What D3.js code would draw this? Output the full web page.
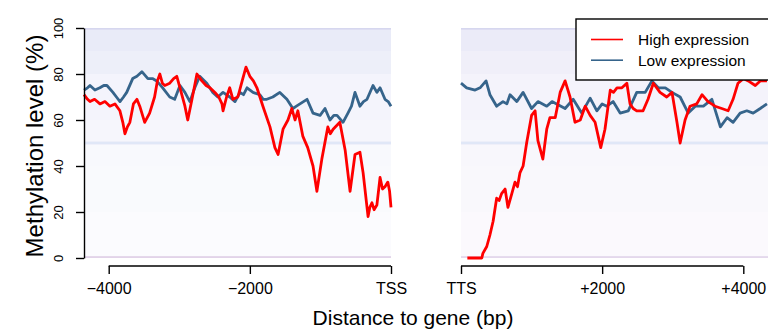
<!DOCTYPE html>
<html>
<head>
<meta charset="utf-8">
<script src="https://cdn.jsdelivr.net/npm/d3@7"></script>
<style>
  body { margin: 0; background: #fff; }
  svg { display: block; font-family: "Liberation Sans", Arial, Helvetica, sans-serif; }
</style>
</head>
<body>
<div id="chart"></div>
<script>
// upstream of TSS (bp) - high expression
const upHighPos = [-4350,-4300,-4265,-4200,-4124,-4053,-3983,-3912,-3841,-3800,-3770,-3735,-3700,-3650,-3600,-3560,-3490,-3420,-3350,-3310,-3275,-3240,-3205,-3135,-3080,-3035,-2990,-2920,-2880,-2820,-2750,-2680,-2620,-2565,-2495,-2440,-2395,-2380,-2330,-2285,-2240,-2170,-2100,-2055,-2000,-1950,-1900,-1815,-1715,-1645,-1600,-1530,-1460,-1405,-1360,-1320,-1250,-1180,-1105,-1050,-980,-895,-860,-820,-725,-650,-580,-510,-440,-395,-325,-300,-270,-240,-200,-155,-120,-85,-45,-20,0];
const upHighVal = [71,69,68,69,67,68,66,67,64,59,54,57,59,67,69,66,59,63,70,77,80,76,75,76,78,79,74,66,60,69,80,77,75,74,72,70,67,64,70,74,69,70,78,83,79,77,74,66,57,48,45,56,60,65,60,64,53,48,40,29,43,57,54,56,59,47,29,45,46,37,18,22,24,21,23,35,30,31,33,29,22];
// upstream of TSS - low expression
const upLowPos = [-4350,-4300,-4265,-4195,-4125,-4070,-4025,-3940,-3890,-3840,-3790,-3745,-3660,-3600,-3530,-3445,-3380,-3320,-3235,-3135,-3065,-2990,-2920,-2850,-2780,-2710,-2610,-2525,-2455,-2380,-2285,-2210,-2140,-2090,-2040,-1955,-1860,-1810,-1760,-1675,-1575,-1475,-1390,-1340,-1290,-1190,-1105,-1005,-935,-865,-810,-765,-680,-610,-560,-510,-440,-390,-340,-255,-200,-155,-85,-40,0];
const upLowVal = [73,74,75,73,74,75,75,72,70,68,70,72,78,79,81,78,78,77,74,70,69,75,72,68,74,79,76,72,70,72,70,68,72,71,74,72,71,69,69,70,72,69,65,66,67,69,63,62,65,60,62,62,59,63,66,72,66,68,69,75,72,74,69,68,66];

// downstream of TTS (bp) - high expression
const downHighPos = [90,295,310,365,410,455,505,540,575,625,665,720,765,800,835,880,930,1000,1050,1090,1160,1215,1260,1335,1405,1475,1545,1615,1690,1760,1830,1900,1980,2040,2115,2160,2210,2280,2350,2395,2440,2490,2580,2650,2725,2820,2915,2990,3060,3105,3175,3245,3340,3415,3500,3600,3695,3785,3855,3925,4000,4070,4170,4240,4335];
const downHighVal = [0,0,2,5,10,16,26,25,28,30,22,28,33,31,37,40,50,62,64,51,43,56,61,61,72,77,70,59,60,66,62,59,48,56,73,72,74,74,76,67,65,64,64,69,76,72,70,72,59,50,60,66,67,71,68,66,65,64,69,76,78,77,75,77,77];
// downstream of TTS - low expression
const downLowPos = [0,80,200,270,355,410,505,595,650,695,790,880,1000,1090,1215,1290,1355,1475,1590,1710,1830,1925,2000,2065,2155,2255,2370,2490,2610,2705,2795,2895,2990,3105,3220,3320,3435,3555,3675,3770,3855,3955,4050,4140,4240,4335];
const downLowVal = [76,74,73,74,77,71,66,68,67,71,68,72,65,68,66,68,67,65,69,63,69.5,64,67,66,68,63,64,72,72,77,74,74,72,70,63,66,66,69,57,61,59,63,64,63,65,67];

// background density of individual CpG sites, by methylation band
const bandLo = [0, 0.8, 20, 40, 49.4, 50.6, 60, 80, 90, 99.3];
const bandHi = [0.8, 20, 40, 49.4, 50.6, 60, 80, 90, 99.3, 100];
const upBlue   = [0.30, 0.03, 0.05, 0.06, 0.28, 0.08, 0.10, 0.15, 0.20, 0.40];
const upPink   = [0.25, 0.02, 0.02, 0.02, 0.05, 0.03, 0.03, 0.05, 0.06, 0.15];
const downBlue = [0.28, 0.03, 0.05, 0.06, 0.28, 0.08, 0.10, 0.13, 0.18, 0.40];
const downPink = [0.20, 0.03, 0.03, 0.03, 0.05, 0.03, 0.04, 0.06, 0.07, 0.15];

const upTicks = [-4000, -2000, 0];
const downTicks = [0, 2000, 4000];
const yTicks = [0, 20, 40, 60, 80, 100];
const seriesNames = ["High expression", "Low expression"];
const seriesColors = ["#ff0000", "#36648b"];

const width = 768, height = 329;

const svg = d3.select("#chart").append("svg")
  .attr("width", width)
  .attr("height", height)
  .attr("viewBox", [0, 0, width, height]);

const xUp = d3.scaleLinear().domain([-4350, 0]).range([84, 391]);
const xDown = d3.scaleLinear().domain([0, 4350]).range([461, 768]);
const y = d3.scaleLinear().domain([0, 100]).range([258, 28]);

// background bands
const bands = d3.range(bandLo.length);
function drawBands(x, blue, pink) {
  const dom = x.domain();
  const g = svg.append("g");
  g.selectAll("rect.b").data(bands).join("rect")
    .attr("x", x(dom[0])).attr("width", x(dom[1]) - x(dom[0]))
    .attr("y", i => y(bandHi[i])).attr("height", i => y(bandLo[i]) - y(bandHi[i]))
    .attr("fill", "#8fbcf2").attr("fill-opacity", i => blue[i]);
  g.selectAll("rect.p").data(bands).join("rect")
    .attr("x", x(dom[0])).attr("width", x(dom[1]) - x(dom[0]))
    .attr("y", i => y(bandHi[i])).attr("height", i => y(bandLo[i]) - y(bandHi[i]))
    .attr("fill", "#f48ab4").attr("fill-opacity", i => pink[i]);
}
drawBands(xUp, upBlue, upPink);
drawBands(xDown, downBlue, downPink);

// lines
function drawLine(x, pos, val, color) {
  const line = d3.line().x((d, i) => x(pos[i])).y(d => y(d));
  svg.append("path")
    .datum(val)
    .attr("fill", "none")
    .attr("stroke", color)
    .attr("stroke-width", 2.8)
    .attr("stroke-linejoin", "round")
    .attr("d", line);
}
drawLine(xUp, upLowPos, upLowVal, seriesColors[1]);
drawLine(xUp, upHighPos, upHighVal, seriesColors[0]);
drawLine(xDown, downLowPos, downLowVal, seriesColors[1]);
drawLine(xDown, downHighPos, downHighVal, seriesColors[0]);

// x axes
const fmt = d3.format("+");
function xAxis(x, ticks, label0, signed) {
  const g = svg.append("g")
    .attr("transform", `translate(0,266)`)
    .call(d3.axisBottom(x).tickValues(ticks).tickSize(8).tickSizeOuter(0).tickPadding(9)
      .tickFormat(d => d === 0 ? label0 : (signed ? fmt(d) : d3.format("")(d))));
  g.select(".domain").remove();
  g.append("line")
    .attr("x1", x(ticks[0])).attr("x2", x(ticks[ticks.length - 1]))
    .attr("stroke", "#000").attr("stroke-width", 1.4);
  g.selectAll(".tick line").attr("stroke-width", 1.4);
  g.selectAll(".tick text").attr("font-size", 16).attr("fill", "#000");
}
xAxis(xUp, upTicks, "TSS", false);
xAxis(xDown, downTicks, "TTS", true);

// y axis
const gy = svg.append("g")
  .attr("transform", `translate(84,0)`)
  .call(d3.axisLeft(y).tickValues(yTicks).tickSize(8).tickSizeOuter(0));
gy.select(".domain").attr("stroke-width", 1.4);
gy.selectAll(".tick line").attr("stroke-width", 1.4);
gy.selectAll(".tick text")
  .attr("x", null).attr("dy", null)
  .attr("transform", "translate(-21,0) rotate(-90)")
  .attr("text-anchor", "middle")
  .attr("font-size", 13).attr("fill", "#000");

// titles
svg.append("text")
  .attr("x", 413).attr("y", 325)
  .attr("text-anchor", "middle")
  .attr("font-size", 21)
  .text("Distance to gene (bp)");

svg.append("text")
  .attr("transform", "translate(43,146) rotate(-90)")
  .attr("text-anchor", "middle")
  .attr("font-size", 24)
  .text("Methylation level (%)");

// legend
const lg = svg.append("g");
lg.append("rect")
  .attr("x", 576).attr("y", 19).attr("width", 210).attr("height", 61)
  .attr("fill", "#fff").attr("stroke", "#000").attr("stroke-width", 1.4);
const li = lg.selectAll("g.item").data(seriesNames).join("g")
  .attr("transform", (d, i) => `translate(0,${39.5 + i * 20.7})`);
li.append("line")
  .attr("x1", 591).attr("x2", 623)
  .attr("stroke", (d, i) => seriesColors[i]).attr("stroke-width", 1.6);
li.append("text")
  .attr("x", 638).attr("y", 5.5)
  .attr("font-size", 15.5)
  .text(d => d);
</script>
</body>
</html>
